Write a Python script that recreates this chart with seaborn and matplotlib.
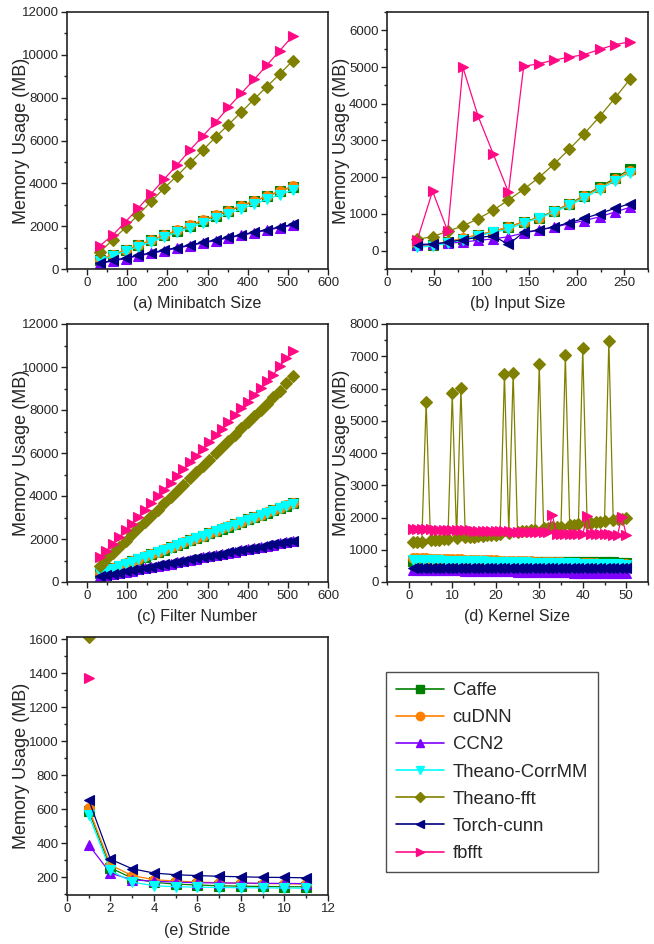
import numpy as np
import pandas as pd
import seaborn as sns
import matplotlib.pyplot as plt
from matplotlib.ticker import MultipleLocator
from matplotlib.lines import Line2D

sns.set_style("ticks")
plt.rcParams['font.family'] = ['Liberation Sans', 'DejaVu Sans']

#========================================================================================================
# Data
#========================================================================================================

libs = ['Caffe', 'cuDNN', 'CCN2', 'Theano-CorrMM', 'Theano-fft', 'Torch-cunn', 'fbfft']
colors = ['#008000', '#FF8000', '#8000FF', '#00FFFF', '#808000', '#000080', '#FF0A84']
markers = ['s', 'o', '^', 'v', 'D', '<', '>']

#(a) Minibatch size
x_a = list(range(32, 513, 32))
caffe_a = [430, 660, 880, 1110, 1340, 1570, 1790, 2020, 2250, 2480, 2710, 2930, 3160, 3390, 3620, 3850]
cudnn_a = [440, 670, 890, 1120, 1350, 1580, 1810, 2040, 2270, 2500, 2730, 2960, 3180, 3410, 3640, 3870]
ccn2_a = [260, 370, 490, 610, 730, 850, 970, 1090, 1210, 1330, 1450, 1570, 1690, 1810, 1930, 2040]
corrmm_a = [390, 610, 830, 1050, 1270, 1490, 1710, 1930, 2150, 2370, 2590, 2810, 3030, 3250, 3470, 3690]
fft_a = [790, 1370, 1940, 2540, 3160, 3780, 4350, 4950, 5540, 6160, 6740, 7330, 7930, 8520, 9110, 9720]
torch_a = [280, 400, 520, 640, 760, 880, 1000, 1120, 1240, 1360, 1480, 1600, 1720, 1840, 1960, 2080]
fbfft_a = [1090, 1580, 2210, 2850, 3520, 4200, 4850, 5550, 6200, 6850, 7550, 8200, 8850, 9520, 10200, 10880]

#(b) Input size
x_b = [32, 48, 64, 80, 96, 112, 128, 144, 160, 176, 192, 208, 224, 240, 256]
caffe_b = [150, 160, 240, 330, 430, 520, 640, 790, 900, 1080, 1270, 1500, 1730, 1970, 2220]
cudnn_b = [150, 160, 240, 340, 430, 520, 650, 780, 890, 1070, 1260, 1480, 1700, 1940, 2160]
ccn2_b = [150, 170, 200, 235, 280, 320, 380, 480, 560, 640, 730, 820, 920, 1050, 1180]
corrmm_b = [90, 130, 200, 300, 400, 500, 580, 760, 880, 1050, 1230, 1440, 1660, 1900, 2120]
fft_b = [310, 380, 530, 670, 870, 1100, 1380, 1670, 1990, 2360, 2760, 3190, 3650, 4150, 4670]
torch_b = [170, 180, 230, 300, 360, 400, 170, 500, 560, 650, 760, 880, 1010, 1150, 1280]
fbfft_b = [300, 1620, 530, 4990, 3660, 2630, 1590, 5020, 5090, 5190, 5270, 5340, 5480, 5610, 5690]

#(c) Filter number
x_c = list(range(32, 513, 16))
caffe_c = [420, 530, 640, 750, 860, 970, 1080, 1180, 1290, 1400, 1510, 1620, 1720, 1830, 1940, 2050,
           2150, 2260, 2370, 2480, 2580, 2690, 2800, 2910, 3010, 3120, 3230, 3340, 3440, 3550, 3660]
cudnn_c = [430, 540, 650, 760, 870, 980, 1090, 1190, 1300, 1410, 1520, 1630, 1730, 1840, 1950, 2060,
           2160, 2270, 2380, 2490, 2590, 2700, 2810, 2920, 3020, 3130, 3240, 3350, 3450, 3560, 3670]
ccn2_c = [260, 310, 370, 420, 480, 530, 590, 640, 700, 750, 810, 860, 920, 970, 1030, 1080,
          1140, 1190, 1250, 1300, 1360, 1410, 1470, 1520, 1580, 1630, 1690, 1740, 1800, 1850, 1910]
corrmm_c = [400, 510, 620, 730, 840, 950, 1060, 1160, 1270, 1380, 1490, 1600, 1700, 1810, 1920, 2030,
            2130, 2240, 2350, 2460, 2560, 2670, 2780, 2890, 2990, 3100, 3210, 3320, 3420, 3530, 3640]
fft_c = [760, 1050, 1340, 1630, 1920, 2210, 2500, 2790, 3080, 3370, 3660, 3950, 4240, 4530, 4820, 5110,
         5400, 5690, 5980, 6270, 6560, 6850, 7140, 7430, 7720, 8010, 8300, 8590, 8880, 9250, 9600]
torch_c = [280, 330, 390, 440, 500, 550, 610, 660, 720, 770, 830, 880, 940, 990, 1050, 1100,
           1160, 1210, 1270, 1320, 1380, 1430, 1490, 1540, 1600, 1650, 1710, 1760, 1820, 1870, 1930]
fbfft_c = [1150, 1460, 1780, 2090, 2410, 2720, 3040, 3350, 3670, 3980, 4300, 4610, 4930, 5240, 5560, 5870,
           6190, 6500, 6820, 7130, 7450, 7760, 8080, 8390, 8710, 9020, 9340, 9650, 10050, 10400, 10730]

#(d) Kernel size
x_d = list(range(1, 51))
caffe_d = [650, 650, 649, 648, 647, 646, 645, 644, 643, 642, 641, 640, 639, 638, 637, 636, 635, 634, 633, 632,
           631, 630, 629, 628, 627, 626, 625, 624, 623, 622, 621, 620, 619, 618, 617, 616, 615, 614, 613, 612,
           611, 610, 609, 608, 607, 606, 605, 604, 603, 602]
cudnn_d = [745, 740, 736, 732, 728, 724, 720, 716, 712, 708, 704, 700, 696, 692, 688, 684, 680, 676, 672, 668,
           664, 660, 656, 652, 648, 644, 640, 636, 632, 628, 624, 620, 616, 612, 608, 604, 600, 596, 592, 588,
           584, 580, 576, 572, 568, 564, 560, 556, 552, 548]
ccn2_d = [385, 382, 380, 377, 375, 372, 370, 367, 365, 362, 360, 357, 355, 352, 350, 347, 345, 342, 340, 337,
          335, 332, 330, 327, 325, 322, 320, 317, 315, 312, 310, 307, 305, 302, 300, 297, 295, 292, 290, 287,
          285, 282, 280, 278, 276, 274, 272, 270, 268, 266]
corrmm_d = [685, 682, 679, 676, 673, 670, 667, 664, 661, 658, 655, 652, 649, 646, 643, 640, 637, 634, 631, 628,
            625, 622, 619, 616, 613, 610, 607, 604, 601, 598, 595, 592, 589, 586, 583, 580, 577, 574, 571, 568,
            565, 562, 559, 556, 553, 550, 547, 544, 541, 538]
fft_d = [1240, 1250, 1250, 5590, 1290, 1300, 1310, 1330, 1340, 5860, 1370, 6010, 1390, 1400, 1410, 1420,
         1440, 1450, 1460, 1470, 1490, 6460, 1520, 6490, 1560, 1580, 1590, 1610, 1620, 6750, 1660, 1670,
         1690, 1700, 1720, 7030, 1760, 1770, 1790, 7260, 1830, 1840, 1850, 1870, 1880, 7480, 1920, 1940,
         1960, 1990]
torch_d = [440, 440, 440, 439, 439, 439, 438, 438, 438, 437, 437, 437, 436, 436, 436, 435, 435, 435, 434, 434,
           434, 433, 433, 433, 432, 432, 432, 431, 431, 431, 430, 430, 430, 430, 430, 430, 430, 430, 430, 430,
           430, 430, 430, 430, 430, 430, 430, 430, 430, 430]
fbfft_d = [1640, 1640, 1635, 1630, 1630, 1625, 1620, 1620, 1615, 1610, 1610, 1605, 1600, 1600, 1595, 1590,
           1590, 1585, 1580, 1580, 1575, 1570, 1570, 1565, 1560, 1560, 1555, 1550, 1550, 1545, 1540, 1540,
           2080, 1490, 1490, 1490, 1485, 1485, 1485, 1480, 2050, 1480, 1480, 1475, 1475, 1475, 1470, 1470,
           2030, 1450]

#(e) Stride
x_e = list(range(1, 12))
caffe_e = [590, 255, 195, 170, 160, 155, 150, 148, 146, 145, 144]
cudnn_e = [605, 272, 210, 186, 178, 172, 168, 165, 163, 162, 160]
ccn2_e = [390, 224, 185, 177, 172, 168, 167, 166, 165, 164, 163]
corrmm_e = [565, 240, 172, 150, 145, 142, 140, 139, 138, 137, 136]
fft_e = [1612]
torch_e = [655, 306, 250, 225, 215, 210, 206, 203, 200, 199, 197]
fbfft_e = [1372]

#========================================================================================================
# Build long-form tables
#========================================================================================================

def make_df(xs, series):
    rows = []
    for lib, vals in zip(libs, series):
        for x, v in zip(xs, vals):
            rows.append({'lib': lib, 'x': x, 'mem': v})
    return pd.DataFrame(rows)

df_a = make_df(x_a, [caffe_a, cudnn_a, ccn2_a, corrmm_a, fft_a, torch_a, fbfft_a])
df_b = make_df(x_b, [caffe_b, cudnn_b, ccn2_b, corrmm_b, fft_b, torch_b, fbfft_b])
df_c = make_df(x_c, [caffe_c, cudnn_c, ccn2_c, corrmm_c, fft_c, torch_c, fbfft_c])
df_d = make_df(x_d, [caffe_d, cudnn_d, ccn2_d, corrmm_d, fft_d, torch_d, fbfft_d])
df_e = make_df(x_e, [caffe_e, cudnn_e, ccn2_e, corrmm_e, fft_e, torch_e, fbfft_e])

palette = dict(zip(libs, colors))
marker_map = dict(zip(libs, markers))

#========================================================================================================
# Plot
#========================================================================================================

W, H = 654, 944
fig = plt.figure(figsize=(W/100, H/100), dpi=100)

def add_ax(x0, y0, x1, y1):
    return fig.add_axes([x0/W, 1 - y1/H, (x1-x0)/W, (y1-y0)/H])

def draw(ax, df, xlim, ylim, xmaj, ymaj, xlabel):
    sns.lineplot(data=df, x='x', y='mem', hue='lib', style='lib', hue_order=libs, style_order=libs,
                 palette=palette, markers=marker_map, dashes=False, estimator=None, sort=False,
                 legend=False, ax=ax, lw=0.9, markersize=7)
    for line in ax.lines:
        line.set_markeredgecolor(line.get_color())
        line.set_markeredgewidth(0.8)
        if line.get_marker() == 'D':
            line.set_markersize(6)
    ax.set_xlim(*xlim)
    ax.set_ylim(*ylim)
    ax.xaxis.set_major_locator(MultipleLocator(xmaj))
    ax.xaxis.set_minor_locator(MultipleLocator(xmaj/2))
    ax.yaxis.set_major_locator(MultipleLocator(ymaj))
    ax.yaxis.set_minor_locator(MultipleLocator(ymaj/2))
    ax.tick_params(which='both', direction='out', top=False, right=False, width=1, color='#222222')
    ax.tick_params(which='major', length=4, labelsize=9.5, pad=2)
    ax.tick_params(which='minor', length=2.5)
    for sp in ax.spines.values():
        sp.set_linewidth(1.2)
        sp.set_color('#222222')
    ax.set_xlabel(xlabel, fontsize=11.5, va='center')
    ax.xaxis.set_label_coords(0.5, -35/258)
    ax.set_ylabel('Memory Usage (MB)', fontsize=13, va='center')
    ax.yaxis.set_label_coords(-45/261, 0.5)

ax_a = add_ax(67, 12, 328, 269)
draw(ax_a, df_a, (-50, 600), (0, 12000), 100, 2000, '(a) Minibatch Size')

ax_b = add_ax(387, 12, 648, 269)
draw(ax_b, df_b, (0, 275), (-500, 6500), 50, 1000, '(b) Input Size')

ax_c = add_ax(67, 324, 328, 582)
draw(ax_c, df_c, (-50, 600), (0, 12000), 100, 2000, '(c) Filter Number')

ax_d = add_ax(387, 324, 648, 582)
draw(ax_d, df_d, (-5, 55), (0, 8000), 10, 1000, '(d) Kernel Size')

ax_e = add_ax(67, 637, 328, 895)
draw(ax_e, df_e, (0, 12), (96, 1612), 2, 200, '(e) Stride')

#Legend in the empty bottom-right slot
handles = [Line2D([], [], color=c, marker=m, lw=1.2, markersize=6 if m != 'D' else 5,
                  markeredgecolor=c) for c, m in zip(colors, markers)]
leg = fig.legend(handles, libs, loc='upper left', bbox_to_anchor=(386/W, 1 - 672/H),
                 frameon=True, fancybox=False, fontsize=13.3, handlelength=2.6,
                 labelspacing=0.55, borderpad=0.55, borderaxespad=0, handletextpad=0.45)
leg.get_frame().set_edgecolor('#222222')
leg.get_frame().set_linewidth(1.0)

plt.savefig('out.png', dpi=100)
plt.close()
